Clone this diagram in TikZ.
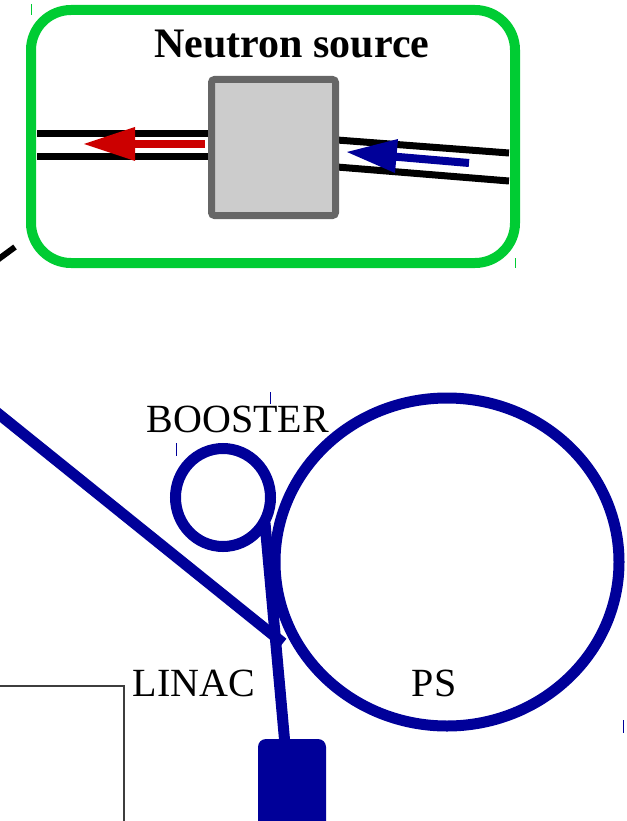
\documentclass[tikz,border=0pt]{standalone}
\usepackage{fontspec}
\setmainfont{Liberation Serif}
\definecolor{psblue}{RGB}{0,0,153}
\definecolor{srcgreen}{RGB}{0,204,51}
\definecolor{arrred}{RGB}{204,0,0}
\definecolor{boxgray}{RGB}{102,102,102}
\definecolor{boxfill}{RGB}{204,204,204}
\tikzset{
  beam/.style={draw=psblue,line width=11pt},
  rail/.style={draw=black,line width=7pt},
  tick/.style={line width=1pt},
  lbl/.style={font=\fontsize{40}{46}\selectfont,inner sep=0pt,anchor=base},
}
\begin{document}
\begin{tikzpicture}[x=1pt,y=-1pt]
\useasboundingbox (0,0) rectangle (626,821);
% ticks
\draw[tick,srcgreen] (31,4) -- (31,15);
\draw[tick,srcgreen] (515,258) -- (515,268);
\draw[tick,psblue] (270,392) -- (270,404);
\draw[tick,psblue] (176,443) -- (176,456);
\draw[tick,psblue] (623,720) -- (623,733);
% neutron source frame
\draw[srcgreen,line width=10pt,rounded corners=40pt] (31,10) rectangle (515,263);
\node[font=\fontsize{42}{48}\selectfont\bfseries,inner sep=0pt,anchor=base] (title) at (292,58) {Neutron source};
% rails
\coordinate (l1a) at (37,133.5); \coordinate (l1b) at (210,133.5);
\coordinate (l2a) at (37,156.5); \coordinate (l2b) at (210,156.5);
\draw[rail] (l1a) -- (l1b);
\draw[rail] (l2a) -- (l2b);
\coordinate (r1a) at (337,140); \coordinate (r1b) at (509,153);
\coordinate (r2a) at (337,167); \coordinate (r2b) at (509,181);
\draw[rail] (r1a) -- (r1b);
\draw[rail] (r2a) -- (r2b);
% target box
\draw[boxgray,fill=boxfill,line width=7pt,rounded corners=3pt] (211.5,79.5) rectangle (335.5,215.5);
\node[inner sep=0pt,minimum size=0pt] (target) at (273.5,147.5) {};
% red arrow
\coordinate (rs) at (205,144); \coordinate (re) at (130,144);
\draw[arrred,line width=8pt] (rs) -- (re);
\fill[arrred] (84,144) -- (135,127) -- (135,161) -- cycle;
% blue arrow
\coordinate (bs) at (469,163); \coordinate (be) at (393,156.5);
\draw[psblue,line width=8pt] (bs) -- (be);
\fill[psblue] (347,152) -- (398,139) -- (395,173) -- cycle;
% black stub at left
\draw[black,line width=6pt] (-2,259.5) -- (15,247);
% thin gray frame
\draw[boxgray!60!black,line width=1.5pt] (0,686) -- (124,686) -- (124,822);
% accelerators
\draw[beam] (-5,411) -- (283,643);
\draw[beam] (447,562) ellipse [x radius=172, y radius=164];
\draw[beam] (223,497.5) ellipse [x radius=47.5, y radius=49];
\coordinate (inj) at (265,523);
\coordinate (linactop) at (285,745);
\draw[beam] (inj) -- (linactop);
\fill[psblue,rounded corners=8pt] (258,739) rectangle (326,835);
\node[inner sep=0pt] (linacbox) at (292,790) {};
% labels
\node[lbl] (booster) at (238,432) {BOOSTER};
\node[lbl] (linac) at (194,696) {LINAC};
\node[lbl] (ps) at (434,696) {PS};
\end{tikzpicture}
\end{document}
